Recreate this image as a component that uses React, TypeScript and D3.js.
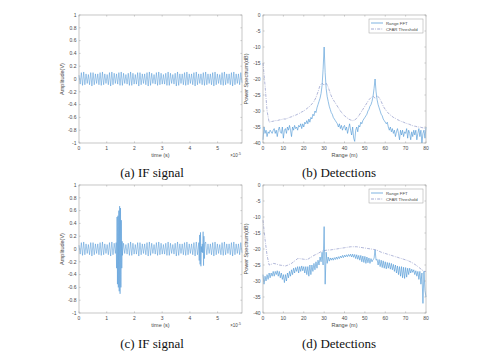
import React from "react";
import * as d3 from "d3";

// ---------- DATA ----------
const ifTimeMax = 5.88; // x 1e-5 s
const ifBase = [
  0.06,-0.08,0.10,-0.10,0.11,-0.09,0.08,-0.07,0.07,-0.09,
  0.10,-0.11,0.10,-0.09,0.08,-0.07,0.08,-0.09,0.10,-0.10,
  0.11,-0.09,0.08,-0.07,0.07,-0.09,0.10,-0.11,0.11,-0.09,
  0.09,-0.07,0.08,-0.08,0.10,-0.10,0.11,-0.10,0.09,-0.07,
  0.07,-0.08,0.09,-0.10,0.11,-0.10,0.09,-0.08,0.07,-0.08,
  0.10,-0.11,0.10,-0.09,0.08,-0.07,0.08,-0.09,0.10,-0.11,
  0.11,-0.10,0.09,-0.07,0.07,-0.08,0.10,-0.10,0.11,-0.09,
  0.09,-0.08,0.07,-0.08,0.09,-0.10,0.11,-0.10,0.09,-0.07,
  0.07,-0.08,0.09,-0.11,0.11,-0.10,0.08,-0.07,0.08,-0.09,
  0.10,-0.10,0.11,-0.09,0.08,-0.07,0.08,-0.09,0.10,-0.11,
  0.11,-0.09,0.08,-0.07,0.08,-0.09,0.10,-0.10,0.11,-0.09,
  0.08,-0.07,0.08,-0.09,0.10,-0.11,0.11,-0.09,0.08,-0.07,
  0.07,-0.09,0.10,-0.10,0.11,-0.09,0.08,-0.07,0.08,-0.09,
  0.10,-0.11,0.11,-0.09,0.08,-0.07,0.08,-0.09,0.10,-0.06,
];
const burst1Start = 1.34;
const burst1End = 1.56;
const burst1Vals = [0.1,-0.3,0.5,-0.55,0.52,-0.6,0.6,-0.66,0.67,-0.7,0.64,-0.6,0.45,-0.3,0.12];
const burst2Start = 4.32;
const burst2End = 4.54;
const burst2Vals = [0.1,-0.18,0.22,-0.24,0.26,-0.27,0.04,-0.05,0.08,-0.06,0.27,-0.26,0.2,-0.15,0.08];

const ampTicks = [-1,-0.8,-0.6,-0.4,-0.2,0,0.2,0.4,0.6,0.8,1];
const timeTicks = [0,1,2,3,4,5];
const rangeTicks = [0,10,20,30,40,50,60,70,80];
const dbTicks = [-40,-35,-30,-25,-20,-15,-10,-5,0];

const fftStep = 0.5;
const fftB = [
  -39,-35,-37,-36,-38,-36.5,-37,-36,-36.5,-37,
  -36,-35.5,-37,-36,-38,-36,-35,-36.5,-37,-35,
  -38.5,-36,-35.5,-37,-35,-36,-34.5,-36,-38,-35,
  -36,-34.5,-35.5,-35,-36,-34.5,-35,-34,-35.5,-34,
  -35,-33.5,-34,-33,-34,-32.5,-33.5,-32,-32.5,-31,
  -31.5,-30,-30.5,-29,-28,-27,-26,-24.5,-22,-17,
  -10,-18,-23,-25.5,-27,-28.5,-29.5,-30.5,-31,-32,
  -32.5,-33,-33.5,-34,-35,-34,-35.5,-34.5,-36,-35,
  -34.5,-36,-35,-37,-35.5,-34,-36,-37.5,-35,-38.5,
  -39.5,-36,-35,-36.5,-34.5,-35,-33.5,-34,-33,-32.5,
  -32,-31.5,-31,-30,-29.5,-28.5,-28,-27,-25.5,-23,
  -20,-24,-26.5,-28,-29,-30,-31,-31.5,-32.5,-33,
  -33.5,-34,-33.5,-35,-36,-35,-36.5,-35.5,-37,-36,
  -38,-36.5,-35.5,-37,-39,-36,-37.5,-36,-38,-36.5,
  -37,-35.5,-38.5,-36,-37,-39,-36.5,-38,-36,-37.5,
  -36,-39,-37,-35.5,-38,-36,-40,-37,-36,-38.5,
  -35,
];
const cfarStep = 1;
const cfarB = [
  -15,-22,-30,-33.5,-33.3,-33.2,-33,-33,-32.8,-32.7,
  -32.5,-32.5,-32.3,-32,-31.8,-31.5,-31.3,-31,-30.7,-30.3,
  -30,-29.5,-29,-28.5,-27.8,-27,-25.8,-24,-22,-21.3,
  -22,-21.3,-22.5,-24.5,-26,-27,-28,-29,-30,-30.8,
  -31.5,-32,-32.5,-32.8,-33,-32.8,-32.3,-31.5,-30.5,-29.5,
  -28.5,-27.5,-26.5,-25.8,-25.3,-26,-25.3,-25.8,-27,-28.5,
  -29.5,-30.3,-31,-31.5,-32,-32.3,-32.7,-33,-33.3,-33.5,
  -33.8,-34,-34.2,-34.5,-34.7,-34.8,-35,-35,-35.2,-35.3,
  -35.5,
];
const fftD = [
  -28,-31,-28.5,-30,-28,-29.5,-27.5,-29,-27.5,-28.5,
  -27,-28.5,-27,-28,-26.8,-28.5,-27,-29,-27.5,-29.5,
  -28,-30.5,-28,-30,-27.5,-29,-27,-28.5,-26.5,-28,
  -26,-27.5,-25.8,-27,-25.5,-27.5,-25.5,-27,-25.3,-26.8,
  -25.5,-27.5,-25.5,-28,-25.5,-28.5,-25,-28,-25,-27,
  -24.5,-26.5,-24,-26,-23.5,-25,-22.5,-24,-21,-25,
  -13,-31,-21,-24.5,-22.5,-23.8,-22.8,-23.5,-22.8,-23.5,
  -22.7,-23.3,-22.5,-23.2,-22.4,-23,-22.2,-22.8,-22,-22.7,
  -21.9,-22.5,-21.8,-22.4,-21.7,-22.3,-21.6,-22.5,-21.6,-22.6,
  -21.7,-23,-21.8,-23.2,-22,-23.5,-22,-24,-22.2,-24.2,
  -22.3,-24.5,-22.5,-24.3,-22.8,-24.5,-23,-24,-23.3,-23,
  -20.3,-23.5,-23.2,-25,-23.3,-25.5,-23.5,-25.8,-23.7,-26,
  -24,-26.2,-24.2,-26,-24.3,-26.3,-24.5,-26.5,-24.8,-27,
  -25,-27.5,-25.3,-28,-25.5,-28.5,-25.5,-29,-25.7,-29.2,
  -25.8,-28.8,-26,-28,-26,-27.5,-26.3,-27.3,-26.5,-28,
  -26.8,-28.5,-27,-29.5,-27,-31,-27.5,-37,-27,-33,
  -35,
];
const cfarD = [
  -11,-17,-22,-25,-24.8,-24.5,-24.6,-24.8,-25,-25.1,
  -25.2,-25.3,-25.1,-24.8,-24.5,-24,-23.5,-23,-23,-23.1,
  -23.2,-23.3,-23.2,-22.8,-22.4,-22,-21.7,-21.4,-21,-20.7,
  -20.5,-20.4,-20.3,-20.3,-20.2,-20.1,-20,-19.9,-19.8,-19.7,
  -19.6,-19.5,-19.4,-19.3,-19.3,-19.3,-19.3,-19.4,-19.5,-19.6,
  -19.7,-19.8,-19.9,-20,-20.1,-20.2,-20.4,-20.7,-21,-21.2,
  -21.4,-21.6,-21.8,-22,-22.2,-22.4,-22.6,-22.8,-23,-23.2,
  -23.4,-23.6,-23.9,-24.2,-24.6,-25,-25.5,-26,-26.5,-27,
  -27,
];
const legendLabels = ["Range FFT", "CFAR Threshold"];
const captions = ["(a) IF signal", "(b) Detections", "(c) IF signal", "(d) Detections"];

// ---------- STYLE ----------
const LINE = "#4893d4";
const CFAR = "#7c86c0";
const AXIS = "#a0a0a0";
const TXT = "#4a4a4a";
const SANS = "Liberation Sans, Arial, sans-serif";
const SERIF = "Liberation Serif, Times New Roman, serif";

type Pt = [number, number];

function basePoints(): Pt[] {
  const n = ifBase.length;
  return ifBase.map((v, i) => [(i * ifTimeMax) / (n - 1), v] as Pt);
}
function withBursts(): Pt[] {
  const pts = basePoints().filter(
    ([t]) => !(t >= burst1Start && t <= burst1End) && !(t >= burst2Start && t <= burst2End)
  );
  const add = (s: number, e: number, vals: number[]) =>
    vals.forEach((v, i) => pts.push([s + ((e - s) * i) / (vals.length - 1), v]));
  add(burst1Start, burst1End, burst1Vals);
  add(burst2Start, burst2End, burst2Vals);
  return pts.sort((a, b) => a[0] - b[0]);
}
const stepped = (arr: number[], step: number): Pt[] => arr.map((v, i) => [i * step, v]);

interface FrameProps {
  x: d3.ScaleLinear<number, number>;
  y: d3.ScaleLinear<number, number>;
  xTicks: number[];
  yTicks: number[];
  xLabel: string;
  yLabel: string;
  yFmt: (v: number) => string;
  exp?: boolean;
  children?: React.ReactNode;
}

function Frame({ x, y, xTicks, yTicks, xLabel, yLabel, yFmt, exp, children }: FrameProps) {
  const [x0, x1] = x.range();
  const [y0, y1] = y.range(); // y0 bottom, y1 top
  const tl = 1.6;
  return (
    <g>
      {children}
      <rect x={x0} y={y1} width={x1 - x0} height={y0 - y1} fill="none" stroke={AXIS} strokeWidth={0.6} />
      {xTicks.map((t) => (
        <g key={"x" + t}>
          <line x1={x(t)} x2={x(t)} y1={y0} y2={y0 - tl} stroke={AXIS} strokeWidth={0.5} />
          <line x1={x(t)} x2={x(t)} y1={y1} y2={y1 + tl} stroke={AXIS} strokeWidth={0.5} />
          <text x={x(t)} y={y0 + 7} fontSize={5} fill={TXT} textAnchor="middle" fontFamily={SANS}>
            {t}
          </text>
        </g>
      ))}
      {yTicks.map((t) => (
        <g key={"y" + t}>
          <line x1={x0} x2={x0 + tl} y1={y(t)} y2={y(t)} stroke={AXIS} strokeWidth={0.5} />
          <line x1={x1} x2={x1 - tl} y1={y(t)} y2={y(t)} stroke={AXIS} strokeWidth={0.5} />
          <text x={x0 - 2.5} y={y(t) + 1.8} fontSize={5} fill={TXT} textAnchor="end" fontFamily={SANS}>
            {yFmt(t)}
          </text>
        </g>
      ))}
      <text x={(x0 + x1) / 2} y={y0 + 14} fontSize={5.5} fill={TXT} textAnchor="middle" fontFamily={SANS}>
        {xLabel}
      </text>
      <text
        transform={`translate(${x0 - 15},${(y0 + y1) / 2}) rotate(-90)`}
        fontSize={5.5}
        fill={TXT}
        textAnchor="middle"
        fontFamily={SANS}
      >
        {yLabel}
      </text>
      {exp && (
        <text x={x1 - 1} y={y0 + 14} fontSize={4.5} fill={TXT} textAnchor="end" fontFamily={SANS}>
          {"×10"}
          <tspan dy={-2} fontSize={3.5}>-5</tspan>
        </text>
      )}
    </g>
  );
}

function IFPanel({ left, top, pts }: { left: number; top: number; pts: Pt[] }) {
  const x = d3.scaleLinear().domain([0, ifTimeMax]).range([left, left + 163]);
  const y = d3.scaleLinear().domain([-1, 1]).range([top + 128, top]);
  const line = d3.line<Pt>().x((d) => x(d[0])).y((d) => y(d[1]));
  return (
    <Frame x={x} y={y} xTicks={timeTicks} yTicks={ampTicks} xLabel="time (s)" yLabel="Amplitude(V)"
      yFmt={(v) => (Math.abs(v) < 1e-9 ? "0" : String(+v.toFixed(1)))} exp>
      <path d={line(pts) || ""} fill="none" stroke={LINE} strokeWidth={0.5} />
    </Frame>
  );
}

function SpecPanel({ left, top, fft, cfar }: { left: number; top: number; fft: number[]; cfar: number[] }) {
  const x = d3.scaleLinear().domain([0, 80]).range([left, left + 163]);
  const y = d3.scaleLinear().domain([-40, 0]).range([top + 128, top]);
  const line = d3.line<Pt>().x((d) => x(d[0])).y((d) => y(d[1]));
  const lx = left + 106, ly = top + 4;
  return (
    <Frame x={x} y={y} xTicks={rangeTicks} yTicks={dbTicks} xLabel="Range (m)" yLabel="Power Spectrum(dB)"
      yFmt={(v) => String(v)}>
      <path d={line(stepped(cfar, cfarStep)) || ""} fill="none" stroke={CFAR} strokeWidth={0.6}
        strokeDasharray="3,1.2,0.8,1.2" />
      <path d={line(stepped(fft, fftStep)) || ""} fill="none" stroke={LINE} strokeWidth={0.6} />
      <rect x={lx} y={ly} width={54} height={14} fill="#fff" stroke={AXIS} strokeWidth={0.5} />
      <line x1={lx + 2} x2={lx + 14} y1={ly + 4} y2={ly + 4} stroke={LINE} strokeWidth={0.7} />
      <line x1={lx + 2} x2={lx + 14} y1={ly + 10} y2={ly + 10} stroke={CFAR} strokeWidth={0.7} strokeDasharray="3,1.2,0.8,1.2" />
      <text x={lx + 17} y={ly + 5.6} fontSize={4.3} fill={TXT} fontFamily={SANS}>{legendLabels[0]}</text>
      <text x={lx + 17} y={ly + 11.6} fontSize={4.3} fill={TXT} fontFamily={SANS}>{legendLabels[1]}</text>
    </Frame>
  );
}

export default function App() {
  return (
    <svg width={500} height={360} viewBox="0 0 500 360"
      style={{ position: "absolute", left: 0, top: 0, background: "#fff" }}>
      <rect width={500} height={360} fill="#fff" />
      <IFPanel left={79} top={15} pts={basePoints()} />
      <SpecPanel left={263} top={15} fft={fftB} cfar={cfarB} />
      <IFPanel left={79} top={185} pts={withBursts()} />
      <SpecPanel left={263} top={185} fft={fftD} cfar={cfarD} />
      {captions.map((c, i) => (
        <text key={c + i} x={i % 2 === 0 ? 152 : 339} y={i < 2 ? 177 : 348} fontSize={13}
          fontFamily={SERIF} textAnchor="middle" fill="#111">
          {c}
        </text>
      ))}
    </svg>
  );
}
